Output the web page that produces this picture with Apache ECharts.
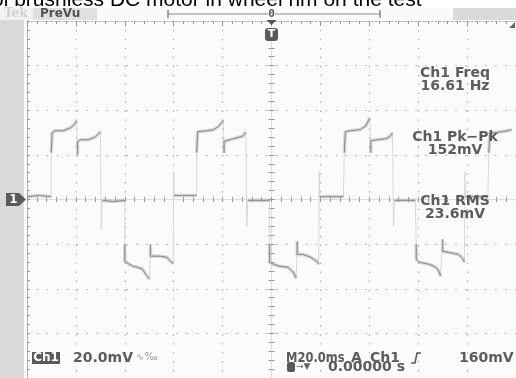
<!DOCTYPE html>
<html>
<head>
<meta charset="utf-8">
<script src="https://cdn.jsdelivr.net/npm/echarts@6/dist/echarts.min.js"></script>
<style>
  html, body { margin: 0; padding: 0; background: #ffffff; overflow: hidden; }
  #scope { width: 516px; height: 378px; }
</style>
</head>
<body>
<div id="scope"></div>
<script>
// Ch1 capture of the hub motor phase signal: 20 mV/div, 20 ms/div, trigger at t = 0.
const timeRange = [-100, 100];   // ms, 10 divisions
const timeStep = 20;             // ms per division
const voltRange = [-80, 80];     // mV, 8 divisions
const voltStep = 20;             // mV per division

// Settled parts of the trace, [ms, mV], in time order.
const plateaus = [
  [[-100, 1.3], [-95.0, 1.8], [-90.1, 1.3]],
  [[-90.1, 21.0], [-89.7, 29.9], [-88.5, 30.8], [-85.3, 30.8], [-82.1, 32.1], [-80.5, 33.9], [-79.7, 35.3]],
  [[-79.3, 20.1], [-79.3, 25.9], [-78.1, 26.8], [-74.8, 26.8], [-72.0, 28.1], [-70.8, 29.5], [-70.0, 30.4]],
  [[-69.2, -0.4], [-64.8, -0.9], [-60.0, -0.4]],
  [[-60.0, -20.1], [-60.0, -27.7], [-58.8, -28.6], [-56.7, -29.9], [-54.7, -30.4], [-52.7, -31.3], [-51.5, -33.5], [-49.9, -35.7]],
  [[-49.5, -20.1], [-49.5, -25.4], [-48.7, -24.6], [-45.5, -25.4], [-42.7, -25.9], [-41.4, -27.7], [-40.2, -28.6]],
  [[-39.8, 1.8], [-35.4, 1.8], [-30.6, 1.8]],
  [[-30.6, 21.0], [-30.2, 30.4], [-29.4, 30.5], [-26.6, 30.8], [-23.7, 31.3], [-21.7, 32.7], [-19.7, 35.4]],
  [[-19.4, 20.8], [-19.4, 26.0], [-17.1, 26.8], [-11.8, 28.3], [-10.5, 30.2]],
  [[-9.7, -0.4], [-4.8, -0.4], [-0.8, -0.4]],
  [[-0.8, -20.1], [-0.8, -28.1], [0.8, -29.0], [3.2, -29.9], [6.8, -30.4], [8.9, -32.6], [10.1, -35.3]],
  [[10.5, -18.8], [10.5, -24.6], [12.9, -24.6], [16.1, -25.9], [18.5, -27.7], [19.3, -29.0]],
  [[19.7, 1.3], [24.5, 1.3], [29.4, 1.3]],
  [[29.8, 21.0], [30.2, 30.4], [32.2, 30.8], [36.2, 31.3], [38.6, 33.0], [40.2, 36.6]],
  [[40.6, 21.0], [40.6, 26.3], [43.1, 26.8], [46.7, 27.2], [48.3, 28.1], [49.5, 29.9]],
  [[50.3, -0.4], [55.1, -0.4], [58.8, -0.4]],
  [[59.2, -20.1], [59.2, -26.8], [60.4, -28.1], [64.4, -29.0], [67.2, -30.4], [68.4, -32.1], [69.2, -34.4]],
  [[70.0, -17.9], [70.0, -23.2], [72.4, -23.7], [76.5, -24.6], [78.1, -26.3], [78.9, -28.1]],
  [[79.3, 1.3], [84.1, 1.3], [88.5, 1.3]],
  [[88.9, 21.0], [89.3, 29.9], [91.3, 29.9], [96.6, 30.8], [98.2, 31.3]]
];

// Short switching glitches when the trace returns to the zero level, [ms, mV].
const glitches = [[-69.6, -13.4], [-40.0, 12.5], [-10.1, -12.1], [19.5, 12.5], [49.9, -12.1], [79.1, 12.5]];

// Readouts shown on screen.
const measureLabels = [['Ch1 Freq', '16.61 Hz'], ['Ch1 Pk\u2212Pk', '152mV'], ['Ch1 RMS', '23.6mV']];
const titleText = 'ol brushless DC motor in wheel rim on the test';

// Full trace: plateaus joined by their edges, glitches slotted in by time.
const fullTrace = plateaus.flat().concat(glitches).sort((a, b) => a[0] - b[0]);
// Settled parts only, broken between plateaus.
const settled = [];
plateaus.forEach((seg, i) => {
  if (i > 0) settled.push([seg[0][0], '-']);
  seg.forEach(p => settled.push(p));
});

const tekFont = 'bold 14px "DejaVu Sans", sans-serif';
const ink = '#5c5c5c';
const gridGrey = '#a8a8a8';

function valueAxisBase(range, step) {
  return {
    type: 'value', min: range[0], max: range[1], interval: step,
    axisLabel: { show: false }, axisTick: { show: false }, axisLine: { show: false },
    splitLine: { show: false }, minorTick: { show: false }
  };
}
function tickAxis(range, step, opts) {
  const a = valueAxisBase(range, step);
  a.axisLine = { show: true, onZero: opts.onZero, lineStyle: { color: opts.lineColor, width: 1, type: opts.lineType || 'solid' } };
  a.axisTick = { show: true, inside: opts.inside, length: opts.major, lineStyle: { color: '#979797', width: 1 } };
  a.minorTick = { show: true, splitNumber: 5, length: opts.minor, lineStyle: { color: '#979797', width: 1 } };
  if (opts.position) a.position = opts.position;
  return a;
}

const gridX = Object.assign(valueAxisBase(timeRange, timeStep), {
  splitLine: { show: true, lineStyle: { color: gridGrey, width: 1.2, type: [1.4, 7.55] } }
});
const gridY = Object.assign(valueAxisBase(voltRange, voltStep), {
  splitLine: { show: true, lineStyle: { color: gridGrey, width: 1.2, type: [1.4, 8.56] } }
});

const option = {
  animation: false,
  backgroundColor: '#ffffff',
  grid: { left: 27, top: 21, width: 498, height: 358, show: true, backgroundColor: '#fbfbfb', borderWidth: 0 },
  xAxis: [
    gridX,
    tickAxis(timeRange, timeStep, { position: 'top', onZero: false, inside: true, major: 5, minor: 3, lineColor: '#b4b4b4', lineType: [2, 2] }),
    tickAxis(timeRange, timeStep, { onZero: true, inside: true, major: 2.5, minor: 2.5, lineColor: '#dedede' }),
    tickAxis(timeRange, timeStep, { onZero: true, inside: false, major: 2.5, minor: 2.5, lineColor: '#dedede' })
  ],
  yAxis: [
    gridY,
    tickAxis(voltRange, voltStep, { position: 'left', onZero: false, inside: true, major: 3, minor: 3, lineColor: '#b0b0b0' }),
    tickAxis(voltRange, voltStep, { onZero: true, inside: true, major: 3, minor: 3, lineColor: '#dedede' }),
    tickAxis(voltRange, voltStep, { onZero: true, inside: false, major: 3, minor: 3, lineColor: '#dedede' })
  ],
  series: [
    {
      type: 'line', data: fullTrace, showSymbol: false, clip: true, silent: true,
      lineStyle: { color: '#d4d4d4', width: 0.9 }, z: 3
    },
    {
      type: 'line', data: settled, showSymbol: false, clip: true, silent: true, connectNulls: false,
      lineStyle: { color: 'rgba(160,160,160,0.38)', width: 3.6 }, z: 4
    },
    {
      type: 'line', data: settled, showSymbol: false, clip: true, silent: true, connectNulls: false,
      lineStyle: { color: '#8e8e8e', width: 1 }, z: 5
    }
  ],
  graphic: []
};

const chart = echarts.init(document.getElementById('scope'), null, { renderer: 'canvas' });
chart.setOption(option);

// Screen furniture placed from the axis scales.
const px = (t, v) => chart.convertToPixel({ xAxisIndex: 0, yAxisIndex: 0 }, [t, v]);
const center = px(0, 0);
const leftEdge = px(timeRange[0], 0)[0];
const topEdge = px(0, voltRange[1])[1];

function tekText(str, x, y, extra) {
  return Object.assign({ type: 'text', x: x, y: y, z: 30,
    style: { text: str, font: tekFont, fill: ink, verticalAlign: 'middle' } }, extra || {});
}

const g = [];
// title line running above the display
g.push({ type: 'text', x: -8, y: 10.5, z: 10,
  style: { text: titleText, font: '21px "Liberation Sans", Arial, sans-serif', fill: '#000', verticalAlign: 'bottom' } });
// status strip
g.push({ type: 'rect', shape: { x: 0, y: 8, width: 33, height: 12 }, style: { fill: '#f2f2f2' }, z: 20 });
g.push({ type: 'text', x: 4, y: 14, z: 21, style: { text: 'Tek', font: 'bold 12px "DejaVu Serif", serif', fill: '#d0d0d0', verticalAlign: 'middle' } });
g.push({ type: 'rect', shape: { x: 33, y: 8, width: 64, height: 12 }, style: { fill: '#e0e0e0' }, z: 20 });
g.push({ type: 'text', x: 40, y: 14, z: 21, style: { text: 'PreVu', font: 'bold 12px "DejaVu Sans", sans-serif', fill: '#505050', verticalAlign: 'middle' } });
g.push({ type: 'rect', shape: { x: 97, y: 8, width: 356, height: 12 }, style: { fill: '#fafafa' }, z: 20 });
g.push({ type: 'rect', shape: { x: 453, y: 8, width: 63, height: 12 }, style: { fill: '#dadada' }, z: 20 });
g.push({ type: 'line', shape: { x1: 168, y1: 14, x2: 380, y2: 14 }, style: { stroke: '#8a8a8a', lineWidth: 1 }, z: 21 });
g.push({ type: 'line', shape: { x1: 168, y1: 10, x2: 168, y2: 18 }, style: { stroke: '#6a6a6a', lineWidth: 1.2 }, z: 21 });
g.push({ type: 'line', shape: { x1: 380, y1: 10, x2: 380, y2: 18 }, style: { stroke: '#6a6a6a', lineWidth: 1.2 }, z: 21 });
g.push({ type: 'text', x: center[0], y: 14, z: 22,
  style: { text: '0', font: 'bold 11px "DejaVu Sans Mono", monospace', fill: '#555', align: 'center', verticalAlign: 'middle', backgroundColor: '#fafafa' } });
// trigger position marker
g.push({ type: 'polygon', shape: { points: [[center[0] - 5, topEdge - 1], [center[0] + 5, topEdge - 1], [center[0], topEdge + 4]] },
  style: { fill: '#555' }, z: 22 });
g.push({ type: 'rect', shape: { x: center[0] - 6.5, y: topEdge + 7, width: 13, height: 13, r: 3 }, style: { fill: '#5a5a5a' }, z: 22 });
g.push({ type: 'text', x: center[0], y: topEdge + 13.5, z: 23,
  style: { text: 'T', font: 'bold 11px "DejaVu Sans", sans-serif', fill: '#fff', align: 'center', verticalAlign: 'middle' } });
// trigger level above the screen top (160 mV is off scale)
g.push({ type: 'polygon', shape: { points: [[509, topEdge + 7], [515, topEdge + 7], [515, topEdge + 1]] },
  style: { fill: '#666' }, z: 22 });
// left side bar and the Ch1 ground marker
g.push({ type: 'rect', shape: { x: 0, y: topEdge - 1, width: leftEdge - 3, height: 380 }, style: { fill: '#d9d9d9' }, z: 20 });
g.push({ type: 'polygon',
  shape: { points: [[6, center[1] - 6.5], [19, center[1] - 6.5], [26, center[1]], [19, center[1] + 6.5], [6, center[1] + 6.5]] },
  style: { fill: '#5a5a5a' }, z: 22 });
g.push({ type: 'text', x: 13.5, y: center[1] + 0.5, z: 23,
  style: { text: '1', font: 'bold 12px "DejaVu Sans", sans-serif', fill: '#fff', align: 'center', verticalAlign: 'middle' } });
// measurement readouts
const readoutY = [73, 137, 201];
measureLabels.forEach((pair, i) => {
  g.push(tekText(pair[0], 455, readoutY[i], { style: { text: pair[0], font: tekFont, fill: ink, align: 'center', verticalAlign: 'middle' } }));
  g.push(tekText(pair[1], 455, readoutY[i] + 13, { style: { text: pair[1], font: tekFont, fill: ink, align: 'center', verticalAlign: 'middle' } }));
});
// channel readout
g.push({ type: 'rect', shape: { x: 32, y: 352, width: 28, height: 12 }, style: { fill: '#5a5a5a' }, z: 30 });
g.push({ type: 'text', x: 46, y: 358, z: 31,
  style: { text: 'Ch1', font: 'bold 12px "DejaVu Sans", sans-serif', fill: '#fff', align: 'center', verticalAlign: 'middle' } });
g.push(tekText('20.0mV', 73, 358));
g.push({ type: 'text', x: 136, y: 357, z: 30,
  style: { text: '\u223f\u2030', font: '10px "DejaVu Sans", sans-serif', fill: '#999', verticalAlign: 'middle' } });
// timebase and trigger readout
g.push(tekText('M20.0ms', 286, 358, { scaleX: 0.82 }));
g.push(tekText('A', 351, 358));
g.push(tekText('Ch1', 370, 358));
g.push({ type: 'polyline', shape: { points: [[411, 363], [415, 363], [417, 353], [421, 353]] },
  style: { stroke: ink, lineWidth: 1.6, fill: null }, z: 30 });
g.push(tekText('160mV', 459, 358));
g.push({ type: 'rect', shape: { x: 287, y: 362, width: 8, height: 10, r: 2 }, style: { fill: '#5a5a5a' }, z: 30 });
g.push({ type: 'text', x: 296, y: 367, z: 30,
  style: { text: '\u2192\u25bc', font: '9px "DejaVu Sans", sans-serif', fill: '#666', verticalAlign: 'middle' } });
g.push(tekText('0.00000 s', 328, 367));

chart.setOption({ graphic: g });
</script>
</body>
</html>
